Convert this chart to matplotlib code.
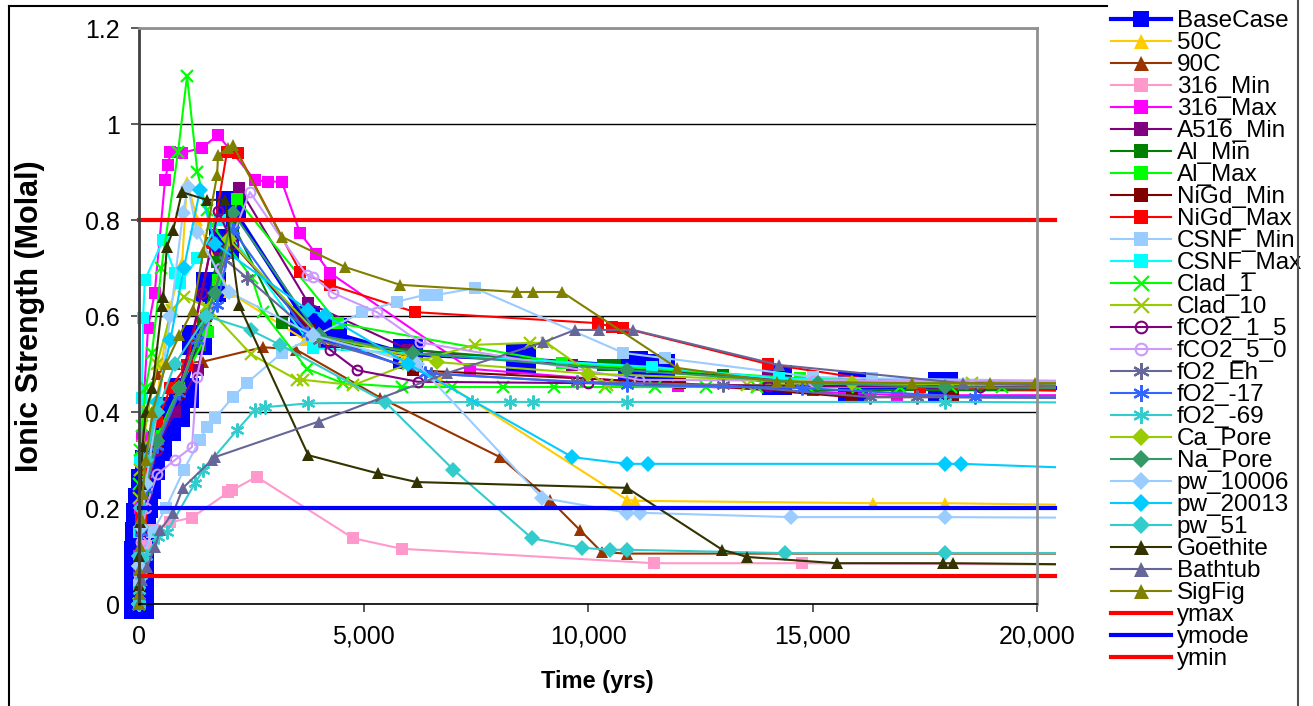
import numpy as np
import matplotlib.pyplot as plt
from matplotlib.lines import Line2D

plt.rcParams['font.family'] = ['Liberation Sans', 'DejaVu Sans']

#=======================================================
#               Data
#=======================================================

t_basecase = [0, 2, 5, 10, 20, 40, 80, 150, 250, 400, 600, 800, 1000, 1300, 1600, 1900, 2050,
              3700, 4300, 6000, 8500, 11000, 11600, 14200, 15900, 17900, 20400]
y_basecase = [0.0, 0.03, 0.06, 0.1, 0.14, 0.18, 0.21, 0.25, 0.29, 0.33, 0.37, 0.40, 0.44, 0.55,
              0.66, 0.75, 0.83, 0.59, 0.565, 0.52, 0.51, 0.495, 0.49, 0.467, 0.452, 0.452, 0.45]

t_50c = [0, 20, 100, 300, 500, 700, 960, 1070, 1300, 2000, 3700, 5900, 6700, 10870, 11050, 16350, 17950, 20400]
y_50c = [0, 0.1, 0.2, 0.35, 0.5, 0.62, 0.71, 0.88, 0.8, 0.65, 0.55, 0.515, 0.467, 0.217, 0.215, 0.21, 0.21, 0.207]

t_90c = [0, 10, 50, 150, 400, 800, 1430, 2760, 3500, 5370, 8040, 9150, 9820, 10310, 10870, 20400]
y_90c = [0, 0.1, 0.25, 0.4, 0.48, 0.5, 0.505, 0.535, 0.53, 0.43, 0.306, 0.217, 0.154, 0.108, 0.105, 0.105]

t_316min = [0, 5, 20, 60, 150, 310, 690, 1180, 1990, 2070, 2620, 4770, 5850, 11470, 14770, 20400]
y_316min = [0, 0.04, 0.07, 0.1, 0.12, 0.154, 0.17, 0.18, 0.233, 0.237, 0.265, 0.137, 0.115, 0.085, 0.085, 0.082]

t_316max = [0, 5, 20, 60, 200, 350, 580, 650, 700, 955, 1400, 1760, 2580, 2875, 3180, 3590, 3940,
            4250, 7370, 12000, 16880, 20400]
y_316max = [0, 0.1, 0.2, 0.35, 0.575, 0.648, 0.883, 0.915, 0.942, 0.94, 0.95, 0.977, 0.883, 0.88,
            0.88, 0.772, 0.73, 0.69, 0.49, 0.455, 0.435, 0.435]

t_a516min = [0, 10, 50, 150, 400, 800, 1310, 1800, 2230, 3770, 6000, 9650, 14000, 20400]
y_a516min = [0, 0.08, 0.17, 0.25, 0.33, 0.4, 0.487, 0.72, 0.867, 0.627, 0.53, 0.498, 0.47, 0.46]

t_almin = [0, 10, 50, 150, 400, 900, 1360, 1430, 1740, 2100, 3180, 4630, 10340, 10600, 13000, 15000, 20400]
y_almin = [0, 0.08, 0.16, 0.24, 0.33, 0.45, 0.54, 0.585, 0.713, 0.79, 0.585, 0.54, 0.498, 0.498,
           0.477, 0.446, 0.445]

t_almax = [0, 10, 50, 150, 400, 900, 1540, 1760, 2190, 4430, 9420, 14720, 20400]
y_almax = [0, 0.09, 0.18, 0.27, 0.35, 0.45, 0.567, 0.675, 0.843, 0.585, 0.502, 0.47, 0.455]

t_nigdmin = [0, 10, 50, 150, 400, 900, 1500, 2000, 3800, 6100, 12050, 15880, 18130, 20400]
y_nigdmin = [0, 0.08, 0.16, 0.25, 0.33, 0.44, 0.6, 0.76, 0.57, 0.487, 0.46, 0.431, 0.431, 0.43]

t_nigdmax = [0, 10, 50, 150, 400, 700, 1070, 1620, 1960, 2200, 3590, 4250, 6150, 10230, 10540,
             10790, 14000, 17400, 20400]
y_nigdmax = [0, 0.08, 0.18, 0.28, 0.38, 0.45, 0.498, 0.752, 0.942, 0.94, 0.692, 0.665, 0.608,
             0.585, 0.577, 0.575, 0.5, 0.452, 0.445]

t_csnfmin = [0, 20, 100, 300, 600, 1000, 1360, 1510, 1690, 2090, 2400, 3180, 4970, 5750, 6370,
             6640, 7480, 10790, 11720, 15000, 16320, 20400]
y_csnfmin = [0, 0.05, 0.1, 0.15, 0.2, 0.28, 0.342, 0.369, 0.387, 0.431, 0.46, 0.523, 0.608, 0.63,
             0.644, 0.644, 0.658, 0.523, 0.512, 0.473, 0.47, 0.465]

t_csnfmax = [0, 10, 30, 67, 90, 130, 535, 800, 910, 1300, 1800, 3880, 11420, 14250, 20400]
y_csnfmax = [0, 0.15, 0.3, 0.43, 0.595, 0.675, 0.758, 0.69, 0.668, 0.72, 0.8, 0.533, 0.494, 0.47, 0.455]

t_clad1 = [0, 10, 30, 60, 150, 290, 500, 870, 1070, 1300, 1510, 1620, 2510, 2760, 3740, 4540,
           5850, 6980, 8110, 9240, 10370, 11500, 12630, 13760, 14890, 16020, 16950, 18080, 19220, 20400]
y_clad1 = [0, 0.25, 0.32, 0.37, 0.45, 0.523, 0.7, 0.942, 1.1, 0.9, 0.82, 0.79, 0.68, 0.608, 0.49,
           0.46, 0.452, 0.452, 0.452, 0.452, 0.452, 0.452, 0.452, 0.452, 0.452, 0.452, 0.452,
           0.452, 0.452, 0.452]

t_clad10 = [0, 10, 30, 80, 200, 400, 730, 1000, 1500, 2500, 3520, 3650, 4770, 6000, 7480, 8710,
            9080, 10420, 13540, 18550, 20400]
y_clad10 = [0, 0.22, 0.28, 0.33, 0.4, 0.5, 0.612, 0.64, 0.62, 0.52, 0.467, 0.467, 0.456, 0.5,
            0.54, 0.544, 0.544, 0.456, 0.456, 0.46, 0.46]

t_fco2_15 = [0, 10, 50, 150, 400, 900, 1400, 1760, 2100, 4250, 4860, 6210, 10000, 14000, 18730, 20400]
y_fco2_15 = [0, 0.07, 0.15, 0.23, 0.32, 0.45, 0.648, 0.818, 0.75, 0.53, 0.487, 0.463, 0.46, 0.455,
             0.452, 0.452]

t_fco2_50 = [0, 10, 50, 150, 400, 800, 1180, 1290, 1800, 2470, 3740, 3880, 4320, 5300, 6260,
             11140, 15000, 20400]
y_fco2_50 = [0, 0.06, 0.13, 0.2, 0.27, 0.3, 0.327, 0.473, 0.7, 0.858, 0.685, 0.682, 0.648, 0.608,
             0.545, 0.467, 0.465, 0.465]

t_fo2eh = [0, 10, 50, 150, 400, 900, 1500, 1920, 2400, 4000, 6500, 9750, 13000, 16280, 17330, 20400]
y_fo2eh = [0, 0.07, 0.15, 0.24, 0.33, 0.45, 0.6, 0.717, 0.68, 0.55, 0.48, 0.463, 0.456, 0.431,
           0.431, 0.43]

t_fo2_17 = [0, 10, 50, 150, 400, 900, 1300, 1740, 2090, 3740, 6370, 10870, 14770, 18620, 20400]
y_fo2_17 = [0, 0.07, 0.15, 0.24, 0.33, 0.44, 0.55, 0.623, 0.779, 0.565, 0.481, 0.456, 0.45,
            0.431, 0.43]

t_fo2_69 = [0, 10, 50, 150, 430, 620, 1250, 1430, 2180, 2580, 2800, 3770, 7410, 8260, 8780,
            10870, 17950, 20400]
y_fo2_69 = [0, 0.03, 0.06, 0.1, 0.14, 0.15, 0.252, 0.279, 0.362, 0.404, 0.41, 0.418, 0.421,
            0.421, 0.421, 0.421, 0.421, 0.42]

t_capore = [0, 10, 50, 150, 400, 900, 1500, 2000, 4000, 6630, 10000, 15880, 20400]
y_capore = [0, 0.08, 0.16, 0.25, 0.34, 0.45, 0.6, 0.76, 0.56, 0.504, 0.48, 0.46, 0.455]

t_napore = [0, 10, 50, 150, 400, 900, 1690, 2090, 4000, 6100, 10870, 15120, 17950, 20400]
y_napore = [0, 0.08, 0.16, 0.25, 0.34, 0.45, 0.648, 0.815, 0.56, 0.523, 0.487, 0.46, 0.452, 0.45]

t_pw10006 = [0, 10, 50, 150, 400, 700, 980, 1090, 1290, 2000, 3880, 6200, 8980, 10870, 11160,
             14520, 17950, 20400]
y_pw10006 = [0, 0.08, 0.16, 0.25, 0.4, 0.6, 0.815, 0.869, 0.775, 0.65, 0.56, 0.5, 0.221, 0.19,
             0.19, 0.181, 0.181, 0.18]

t_pw20013 = [0, 10, 50, 150, 400, 700, 1000, 1360, 1700, 3770, 4140, 6000, 9650, 10870, 11340,
             17950, 18310, 20400]
y_pw20013 = [0, 0.1, 0.2, 0.3, 0.42, 0.55, 0.7, 0.863, 0.75, 0.612, 0.602, 0.5, 0.306, 0.292,
             0.292, 0.292, 0.292, 0.285]

t_pw51 = [0, 10, 50, 150, 400, 800, 1500, 2500, 3140, 5480, 7000, 8750, 9870, 10490, 10870,
          14390, 17950, 20400]
y_pw51 = [0, 0.1, 0.2, 0.3, 0.4, 0.5, 0.6, 0.57, 0.54, 0.421, 0.28, 0.137, 0.117, 0.113, 0.113,
          0.106, 0.106, 0.106]

t_goethite = [0, 5, 10, 20, 40, 80, 150, 300, 510, 540, 620, 760, 955, 1510, 1920, 2230, 3770,
              5320, 6190, 10870, 12990, 13540, 15540, 17900, 18130, 20400]
y_goethite = [0, 0.04, 0.1, 0.17, 0.25, 0.33, 0.4, 0.45, 0.62, 0.64, 0.744, 0.779, 0.858, 0.842,
              0.842, 0.622, 0.31, 0.272, 0.254, 0.242, 0.113, 0.098, 0.085, 0.085, 0.085, 0.083]

t_bathtub = [0, 20, 60, 180, 360, 470, 760, 980, 1620, 1690, 4000, 6860, 9000, 9710, 10240,
             11000, 14250, 18350, 20400]
y_bathtub = [0, 0.02, 0.05, 0.077, 0.119, 0.154, 0.19, 0.242, 0.3, 0.306, 0.38, 0.481, 0.545,
             0.571, 0.571, 0.571, 0.498, 0.46, 0.455]

t_sigfig = [0, 5, 10, 20, 40, 80, 150, 300, 600, 900, 1200, 1430, 1740, 1760, 1980, 2090, 3180,
            4590, 5810, 8420, 8780, 9420, 11980, 14200, 14500, 17220, 18950, 19950, 20400]
y_sigfig = [0, 0.02, 0.07, 0.12, 0.18, 0.23, 0.3, 0.4, 0.5, 0.56, 0.612, 0.733, 0.894, 0.935,
            0.95, 0.956, 0.765, 0.702, 0.665, 0.65, 0.65, 0.65, 0.492, 0.463, 0.463, 0.46, 0.46,
            0.46, 0.46]

# Reference levels (ymax, ymode, ymin)
t_ref = [0, 20400]
y_ref_max = 0.8
y_ref_mode = 0.2
y_ref_min = 0.058

x_ticks = [0, 5000, 10000, 15000, 20000]
y_ticks = [0, 0.2, 0.4, 0.6, 0.8, 1.0, 1.2]
y_ticklabels = ['0', '0.2', '0.4', '0.6', '0.8', '1', '1.2']

#=======================================================
#                       Styles
#=======================================================

asterisk = (6, 2, 0)
series = [
    ('BaseCase', t_basecase, y_basecase, '#0000FF', 's', 21, 3.0, 'fill'),
    ('50C', t_50c, y_50c, '#FFCC00', '^', 9, 1.5, 'fill'),
    ('90C', t_90c, y_90c, '#993300', '^', 9, 1.5, 'fill'),
    ('316_Min', t_316min, y_316min, '#FF99CC', 's', 8, 1.5, 'fill'),
    ('316_Max', t_316max, y_316max, '#FF00FF', 's', 8, 1.5, 'fill'),
    ('A516_Min', t_a516min, y_a516min, '#800080', 's', 8, 1.5, 'fill'),
    ('Al_Min', t_almin, y_almin, '#008000', 's', 8, 1.5, 'fill'),
    ('Al_Max', t_almax, y_almax, '#00FF00', 's', 8, 1.5, 'fill'),
    ('NiGd_Min', t_nigdmin, y_nigdmin, '#800000', 's', 8, 1.5, 'fill'),
    ('NiGd_Max', t_nigdmax, y_nigdmax, '#FF0000', 's', 8, 1.5, 'fill'),
    ('CSNF_Min', t_csnfmin, y_csnfmin, '#99CCFF', 's', 8, 1.5, 'fill'),
    ('CSNF_Max', t_csnfmax, y_csnfmax, '#00FFFF', 's', 8, 1.5, 'fill'),
    ('Clad_1', t_clad1, y_clad1, '#00FF00', 'x', 9, 1.5, 'line'),
    ('Clad_10', t_clad10, y_clad10, '#99CC00', 'x', 9, 1.5, 'line'),
    ('fCO2_1_5', t_fco2_15, y_fco2_15, '#800080', 'o', 7, 1.5, 'open'),
    ('fCO2_5_0', t_fco2_50, y_fco2_50, '#CC99FF', 'o', 7, 1.5, 'open'),
    ('fO2_Eh', t_fo2eh, y_fo2eh, '#666699', asterisk, 10, 1.5, 'line'),
    ('fO2_-17', t_fo2_17, y_fo2_17, '#3366FF', asterisk, 10, 1.5, 'line'),
    ('fO2_-69', t_fo2_69, y_fo2_69, '#33CCCC', asterisk, 10, 1.5, 'line'),
    ('Ca_Pore', t_capore, y_capore, '#99CC00', 'D', 8, 1.5, 'fill'),
    ('Na_Pore', t_napore, y_napore, '#339966', 'D', 8, 1.5, 'fill'),
    ('pw_10006', t_pw10006, y_pw10006, '#99CCFF', 'D', 8, 1.5, 'fill'),
    ('pw_20013', t_pw20013, y_pw20013, '#00CCFF', 'D', 8, 1.5, 'fill'),
    ('pw_51', t_pw51, y_pw51, '#33CCCC', 'D', 8, 1.5, 'fill'),
    ('Goethite', t_goethite, y_goethite, '#333300', '^', 9, 1.5, 'fill'),
    ('Bathtub', t_bathtub, y_bathtub, '#666699', '^', 9, 1.5, 'fill'),
    ('SigFig', t_sigfig, y_sigfig, '#808000', '^', 9, 1.5, 'fill'),
]

X_MAX = 20000

fig = plt.figure(figsize=(13.13, 7.06), dpi=100)
ax = fig.add_axes([139 / 1313, 1 - 604 / 706, 898 / 1313, 576 / 706])

for label, t, y, color, marker, ms, lw, kind in series:
    t = np.asarray(t, dtype=float)
    y = np.asarray(y, dtype=float)
    # Points past the axis maximum keep their line but show no marker.
    shown = list(np.flatnonzero(t <= X_MAX))
    if kind == 'open':
        face = 'none'
        mew = 1.5
    elif kind == 'line':
        face = color
        mew = 1.6
    else:
        face = color
        mew = 0.0
    ax.plot(t, y, color=color, lw=lw, marker=marker, ms=ms, mfc=face, mec=color,
            mew=mew, markevery=shown, clip_on=False, label=label)

ax.plot(t_ref, [y_ref_max] * 2, color='#FF0000', lw=3, clip_on=False, label='ymax')
ax.plot(t_ref, [y_ref_mode] * 2, color='#0000FF', lw=3, clip_on=False, label='ymode')
ax.plot(t_ref, [y_ref_min] * 2, color='#FF0000', lw=3, clip_on=False, label='ymin')

ax.set_xlim(0, X_MAX)
ax.set_ylim(0, 1.2)
ax.set_xticks(x_ticks)
ax.set_xticklabels(['{:,}'.format(v) for v in x_ticks])
ax.set_yticks(y_ticks)
ax.set_yticklabels(y_ticklabels)
ax.tick_params(axis='both', labelsize=18, direction='out', length=6, width=1.2,
               color='#404040')
ax.tick_params(axis='x', pad=9)
ax.tick_params(axis='y', pad=8)

ax.yaxis.grid(True, color='black', lw=1)
ax.set_axisbelow(True)

ax.spines['top'].set_color('#909090')
ax.spines['top'].set_linewidth(2)
ax.spines['right'].set_color('#909090')
ax.spines['right'].set_linewidth(2)
ax.spines['left'].set_color('#404040')
ax.spines['left'].set_linewidth(2)
ax.spines['bottom'].set_color('black')
ax.spines['bottom'].set_linewidth(1.2)

ax.set_xlabel('Time (yrs)', fontsize=17, fontweight='bold', va='center')
ax.xaxis.set_label_coords(0.51, -0.135)
ax.set_ylabel('Ionic Strength (Molal)', fontsize=22, fontweight='bold', va='center')
ax.yaxis.set_label_coords(-0.121, 0.5)

leg = ax.legend(loc='upper left', bbox_to_anchor=(1111 / 1313, 1 - 10 / 706),
                bbox_transform=fig.transFigure, frameon=False, fontsize=17.5,
                labelspacing=0.0, handlelength=2.45, handletextpad=0.25,
                borderpad=0, borderaxespad=0)
for h in leg.legend_handles:
    if h.get_label() == 'BaseCase':
        h.set_markersize(12)
    elif h.get_marker() not in (None, 'None', ''):
        h.set_markersize(h.get_markersize() * 1.2)

# Outer chart frame
fig.add_artist(Line2D([9 / 1313, 1107 / 1313], [1 - 6 / 706] * 2, color='black', lw=1.5))
fig.add_artist(Line2D([9 / 1313] * 2, [0, 1 - 6 / 706], color='black', lw=1.5))
fig.add_artist(Line2D([1298 / 1313] * 2, [0, 1], color='#505050', lw=1.5))

plt.savefig('out.png', dpi=100)
